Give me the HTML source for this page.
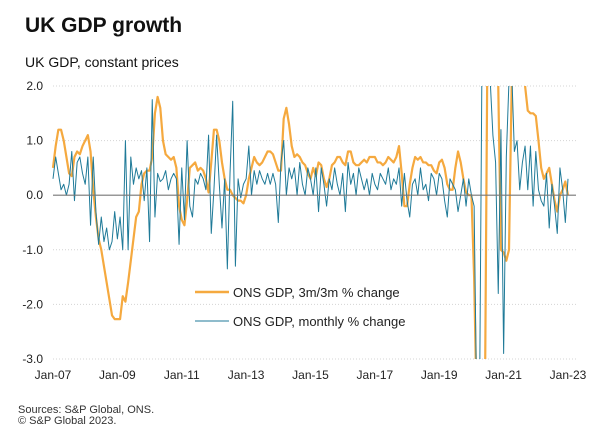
<!DOCTYPE html>
<html><head><meta charset="utf-8"><style>
html,body{margin:0;padding:0;background:#fff;font-family:"Liberation Sans",Arial,sans-serif;overflow:hidden;width:607px;height:443px;}
#wrap{position:relative;width:607px;height:443px;overflow:hidden;}
#chart{display:block;}
</style></head><body>
<div id="wrap">
<svg id="chart" width="607" height="443" xmlns="http://www.w3.org/2000/svg" font-family="Liberation Sans, Arial, sans-serif">
<text x="25" y="32" font-size="21" font-weight="bold" fill="#111">UK GDP growth</text>
<text x="25" y="67" font-size="14" fill="#111">UK GDP, constant prices</text>
<g id="grid"></g>
<g id="series"></g>
<g id="legend">
<line x1="195" y1="292" x2="229" y2="292" stroke="#F5A93F" stroke-width="2.5"/>
<text x="233" y="297" font-size="13" fill="#222">ONS GDP, 3m/3m % change</text>
<line x1="195" y1="321" x2="229" y2="321" stroke="#1F7A98" stroke-width="1"/>
<text x="233" y="326" font-size="13" fill="#222">ONS GDP, monthly % change</text>
</g>
<text x="18" y="413" font-size="11" fill="#333">Sources: S&amp;P Global, ONS.</text>
<text x="18" y="424" font-size="11" fill="#333">© S&amp;P Global 2023.</text>
</svg>
</div>
<script>
const yTicks = [2, 1, 0, -1, -2, -3];
const yTickLabels = ["2.0", "1.0", "0.0", "-1.0", "-2.0", "-3.0"];
const xTickMonths = [0, 24, 48, 72, 96, 120, 144, 168, 192];
const xTickLabels = ["Jan-07","Jan-09","Jan-11","Jan-13","Jan-15","Jan-17","Jan-19","Jan-21","Jan-23"];
const threeMonthSeries = [
0.5,0.9,1.2,1.2,1.0,0.7,0.4,0.35,0.7,0.8,0.75,0.9,
1.0,1.1,0.8,0.1,-0.4,-0.8,-1.0,-1.3,-1.6,-1.9,-2.2,-2.27,
-2.27,-2.27,-1.85,-1.95,-1.6,-1.2,-0.8,-0.4,-0.3,0.2,0.4,0.45,
0.45,0.7,1.5,1.8,1.6,1.0,0.75,0.7,0.65,0.7,0.5,-0.2,
-0.45,-0.55,-0.1,0.5,0.55,0.6,0.45,0.5,0.45,0.3,0.05,0.6,
1.2,1.2,1.0,0.6,0.3,0.1,0.1,0.0,-0.05,-0.1,-0.1,-0.15,
0.0,0.3,0.5,0.7,0.6,0.55,0.6,0.7,0.8,0.8,0.75,0.6,
0.45,0.45,1.4,1.6,1.3,0.9,0.7,0.75,0.7,0.6,0.55,0.4,
0.3,0.5,0.35,0.6,0.55,0.3,0.15,0.3,0.55,0.6,0.7,0.7,
0.6,0.55,0.8,0.8,0.6,0.55,0.55,0.6,0.65,0.6,0.7,0.7,
0.7,0.6,0.6,0.55,0.6,0.7,0.65,0.6,0.7,0.9,0.4,-0.2,
-0.2,0.2,0.5,0.7,0.65,0.7,0.6,0.6,0.55,0.55,0.45,0.4,
0.6,0.65,0.5,0.2,0.1,0.1,0.5,0.8,0.6,0.3,0.05,0.0,
0.0,-1.5,-8,-20,-20,-9,6,16,16,10,2,-1,
-1.05,-1.2,-1.0,2,5,4,4,3,2,1.55,1.5,1.5,
1.45,1.0,0.5,0.3,0.4,0.5,0.2,-0.1,-0.3,0.0,0.1,0.25,
0.0];
const monthlySeries = [
0.3,0.7,0.4,0.1,0.2,0.0,0.2,0.8,-0.1,0.6,0.7,0.4,
0.2,0.7,-0.55,0.7,-0.3,-0.9,-0.4,-0.85,-0.6,-1.0,-0.85,-0.3,
-0.8,-0.4,-1.0,1.0,-1.0,0.7,0.2,0.5,0.3,0.45,-0.1,0.5,
-0.85,1.75,-0.4,0.4,0.25,0.3,0.45,0.1,0.3,0.4,0.3,-0.9,
0.5,-0.45,1.0,-0.2,-0.4,0.3,0.2,0.4,0.3,0.1,1.1,-0.7,
0.1,1.1,0.2,-0.6,0.3,-1.35,0.4,1.72,-1.3,0.3,-0.05,0.2,
0.3,0.9,0.0,0.45,0.2,0.45,0.3,0.2,0.4,0.2,0.4,0.2,
-0.5,0.6,1.0,0.0,0.5,0.3,0.5,0.0,0.6,0.2,0.0,0.5,
0.3,0.0,0.5,-0.3,0.5,0.2,-0.2,0.3,0.1,0.5,0.2,0.0,
0.4,-0.3,0.6,0.2,0.4,0.0,0.5,0.3,0.1,0.3,0.0,0.4,
0.2,0.1,0.4,0.3,0.2,0.5,0.1,0.3,0.2,0.5,-0.2,0.4,
-0.1,-0.4,0.2,0.3,0.0,0.5,0.1,0.2,-0.1,0.4,0.3,0.0,
0.4,0.3,-0.1,-0.4,0.3,0.2,0.1,-0.3,0.0,0.3,-0.2,0.3,
0.0,-0.2,-6.9,-20,3.2,9,7,2.1,1.1,0.6,-1.8,1.2,
-2.9,0.7,2.1,2.3,0.8,1.0,0.1,0.6,0.9,0.1,0.9,-0.2,
0.8,0.1,-0.1,-0.2,0.4,-0.6,0.2,-0.2,-0.7,0.5,0.1,-0.5,
0.3];

const NS = "http://www.w3.org/2000/svg";
const X0 = 53, X1 = 568, Y_TOP = 86, Y_BOT = 359, VMAX = 2, VMIN = -3;
function xScale(m){ return X0 + (X1 - X0) * m / 192; }
function yScale(v){
  const c = Math.max(VMIN - 1, Math.min(VMAX + 1, v));
  return Y_TOP + (VMAX - c) / (VMAX - VMIN) * (Y_BOT - Y_TOP);
}
function mk(tag, attrs){ const e = document.createElementNS(NS, tag); for (const k in attrs) e.setAttribute(k, attrs[k]); return e; }

const svg = document.getElementById('chart');
const defs = mk('defs', {});
const cp = mk('clipPath', {id: 'plotclip'});
cp.appendChild(mk('rect', {x: 40, y: Y_TOP, width: 560, height: Y_BOT - Y_TOP}));
defs.appendChild(cp);
svg.insertBefore(defs, svg.firstChild);

const grid = document.getElementById('grid');
yTicks.forEach((v, i) => {
  const y = yScale(v);
  if (v !== 0) {
    const gl = mk('line', {x1: X0, x2: 576, y1: y, y2: y, stroke: '#d4d4d4', 'stroke-width': 1, 'stroke-dasharray': '1,2'});
    
    
    grid.appendChild(gl);
  }
  const t = mk('text', {x: 43, y: y + 4, 'font-size': 12, 'text-anchor': 'end', fill: '#222'});
  t.textContent = yTickLabels[i];
  
  
  grid.appendChild(t);
});
xTickMonths.forEach((m, i) => {
  const t = mk('text', {x: xScale(m), y: 379, 'font-size': 12, 'text-anchor': 'middle', fill: '#222'});
  t.textContent = xTickLabels[i];
  
  
  grid.appendChild(t);
});

const series = document.getElementById('series');
series.setAttribute('clip-path', 'url(#plotclip)');
function pathFor(arr){ return arr.map((v, i) => (i ? 'L' : 'M') + xScale(i).toFixed(2) + ',' + yScale(v).toFixed(2)).join(''); }
const orange = mk('path', {d: pathFor(threeMonthSeries), fill: 'none', stroke: '#F5A93F', 'stroke-width': 2.2, 'stroke-linejoin': 'round'});


series.appendChild(orange);
const blue = mk('path', {d: pathFor(monthlySeries), fill: 'none', stroke: '#1F7A98', 'stroke-width': 1, 'stroke-linejoin': 'round'});


series.appendChild(blue);
const zero = mk('line', {x1: X0, x2: 576, y1: yScale(0), y2: yScale(0), stroke: '#777', 'stroke-width': 1.2});


svg.insertBefore(zero, document.getElementById('legend'));
</script>
</body></html>
